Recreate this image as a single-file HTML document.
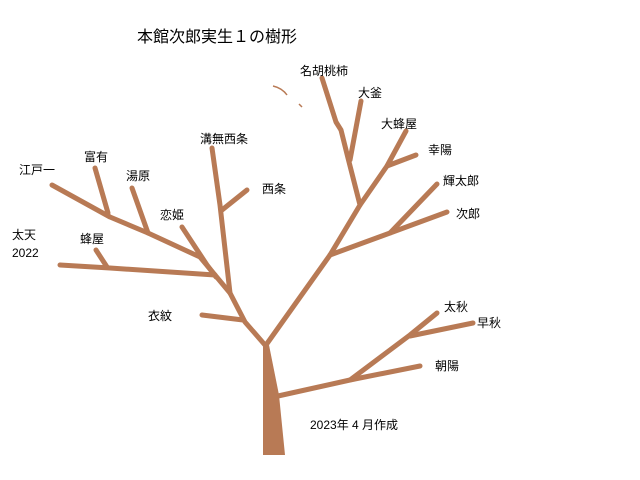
<!DOCTYPE html>
<html><head><meta charset="utf-8"><style>
html,body{margin:0;padding:0;background:#fff;}
svg{display:block;}
text{font-family:"Liberation Sans","Noto Sans CJK JP",sans-serif;fill:#000;}
</style></head><body>
<svg width="640" height="480" viewBox="0 0 640 480" xmlns="http://www.w3.org/2000/svg">
<rect width="640" height="480" fill="#fff"/>
<g fill="none" stroke="#b87a55" stroke-width="5" stroke-linecap="round" stroke-linejoin="round">
<polyline points="265,345 245,322 230,293 200,257 148,233 110,217 52,185"/>
<polyline points="95,168 108,213"/>
<polyline points="132,188 148,233"/>
<polyline points="182,227 207,265 216,277"/>
<polyline points="60,265 110,268 215,275"/>
<polyline points="96,250 107,267"/>
<polyline points="212,148 220,205 230,293"/>
<polyline points="247,190 222,210"/>
<polyline points="202,315 243,320"/>
<polyline points="266,345 330,255 360,205 348,158 341,130 336,122 322,78"/>
<polyline points="361,101 350,160"/>
<polyline points="406,131 387,166 360,205"/>
<polyline points="416,155 387,166"/>
<polyline points="437,184 390,233"/>
<polyline points="447,212 390,233 330,255"/>
<polyline points="278,396 350,380 420,366"/>
<polyline points="350,380 410,335 437,313"/>
<polyline points="473,323 410,336"/>
</g>
<polygon points="263,345 269,345 279,395 285,455 263,455 263,395" fill="#b87a55"/>
<path d="M273,86 Q282,88 287,95" stroke="#b87a55" stroke-width="1.5" fill="none"/>
<path d="M299,104 L302,107" stroke="#b87a55" stroke-width="1.5" fill="none"/>
<g font-size="12">
<text x="137" y="42" font-size="16">本館次郎実生１の樹形</text>
<text x="300" y="75">名胡桃柿</text>
<text x="358" y="97">大釜</text>
<text x="381" y="128">大蜂屋</text>
<text x="428" y="154">幸陽</text>
<text x="443" y="185">輝太郎</text>
<text x="456" y="218">次郎</text>
<text x="200" y="143">溝無西条</text>
<text x="262" y="193">西条</text>
<text x="19" y="174">江戸一</text>
<text x="84" y="161">富有</text>
<text x="126" y="180">湯原</text>
<text x="160" y="219">恋姫</text>
<text x="12" y="239">太天</text>
<text x="12" y="257">2022</text>
<text x="80" y="243">蜂屋</text>
<text x="148" y="320">衣紋</text>
<text x="444" y="311">太秋</text>
<text x="477" y="327">早秋</text>
<text x="435" y="370">朝陽</text>
<text x="310" y="429">2023年 4 月作成</text>
</g>
</svg>
</body></html>
